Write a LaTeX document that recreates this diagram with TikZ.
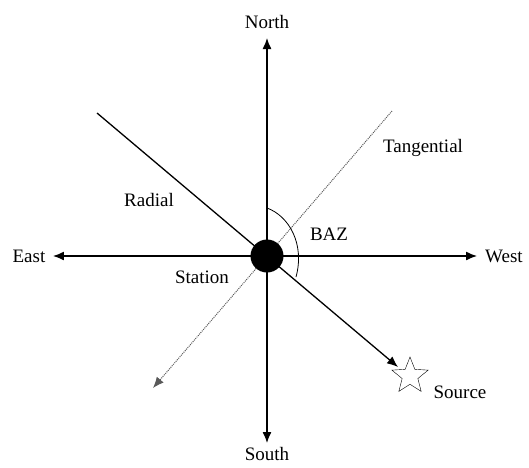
\documentclass[tikz,border=0pt]{standalone}
\usepackage{fontspec}
\setmainfont{Liberation Serif}
\usetikzlibrary{arrows.meta,shapes.geometric}
\tikzset{
    axis/.style={line width=1.3pt, -{Latex[length=11pt,width=9pt]}},
    tang/.style={line width=1pt, gray!70!black, dash pattern=on 1pt off 1pt, -{Latex[length=11pt,width=9pt]}},
    lbl/.style={font=\fontsize{19}{22}\selectfont, inner sep=0pt}
}
\begin{document}
\begin{tikzpicture}[x=1pt, y=1pt]
    \useasboundingbox (-267,-211) rectangle (262,256);
    \coordinate (stn) at (0,0);
    \coordinate (ntip) at (0,218);
    \coordinate (stip) at (0,-187);
    \coordinate (etip) at (-214,0);
    \coordinate (wtip) at (210,0);
    \coordinate (radtop) at (-170,143);
    \coordinate (radend) at (131,-111);
    \coordinate (tantop) at (125,145);
    \coordinate (tanend) at (-114,-132);
    % Axes
    \draw[axis] (stn) -- (ntip);
    \draw[axis] (stn) -- (stip);
    \draw[axis] (stn) -- (etip);
    \draw[axis] (stn) -- (wtip);
    % Radial and tangential
    \draw[axis] (radtop) -- (radend);
    \draw[tang] (tantop) -- (tanend);
    % BAZ arc
    \draw[line width=0.8pt] (0,48) .. controls (22,40) and (38,12) .. (29,-21);
    % Station and source
    \node[circle, fill=black, minimum size=33pt, inner sep=0pt] (dot) at (stn) {};
    \node[star, star points=5, star point ratio=2.3, draw, thin, minimum size=38pt, inner sep=0pt] (src) at (143,-120) {};
    % Labels
    \node[lbl] (north) at (0,234) {North};
    \node[lbl] (south) at (0,-198) {South};
    \node[lbl] (east) at (-238,0) {East};
    \node[lbl] (west) at (237,0) {West};
    \node[lbl] (radial) at (-118,56) {Radial};
    \node[lbl] (tangential) at (156,108) {Tangential};
    \node[lbl] (baz) at (62,22) {BAZ};
    \node[lbl] (station) at (-65,-21) {Station};
    \node[lbl] (source) at (193,-136) {Source};
\end{tikzpicture}
\end{document}
